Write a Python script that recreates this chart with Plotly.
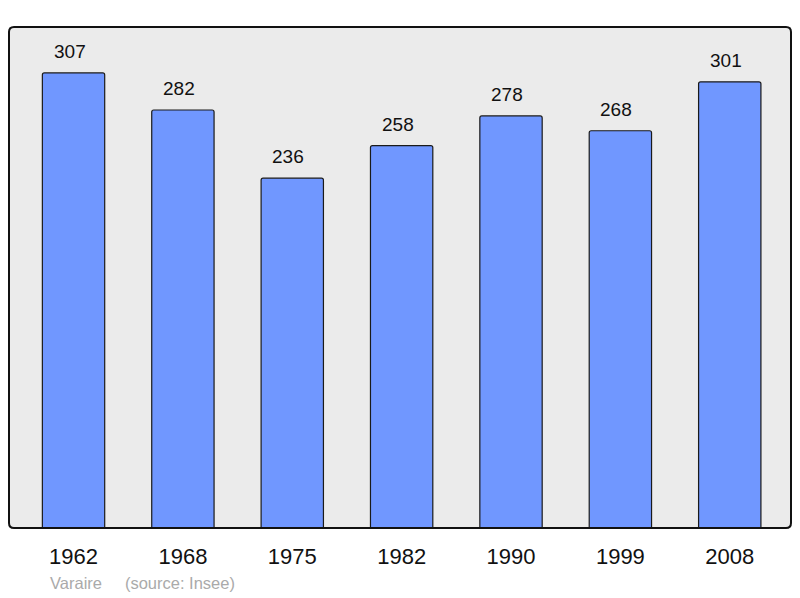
import plotly.graph_objects as go

years = ["1962", "1968", "1975", "1982", "1990", "1999", "2008"]
population = [307, 282, 236, 258, 278, 268, 301]
source_text = "Varaire     (source: Insee)"

xs = list(range(len(years)))
FONT = "Liberation Sans, Arial, sans-serif"

fig = go.Figure()
fig.add_trace(go.Bar(
    x=xs, y=population, width=0.57,
    marker=dict(color="#7097FF", line=dict(color="#1a1a1a", width=1.2), cornerradius=2),
    hoverinfo="skip",
))

for x, v in zip(xs, population):
    fig.add_annotation(x=x, y=v, text=str(v), showarrow=False, yanchor="bottom",
                       yshift=9, xshift=-4, font=dict(size=19, color="#111111", family=FONT))

fig.add_annotation(xref="paper", yref="paper", x=(48 - 9) / 782, y=-(583 - 528) / 501,
                   xanchor="left", yanchor="middle", showarrow=False,
                   text=source_text,
                   font=dict(size=16.5, color="#aaaaaa", family=FONT))

# rounded frame around plot area
rx, ry = 5 / 782, 5 / 501
path = (f"M {rx},0 L {1-rx},0 Q 1,0 1,{ry} L 1,{1-ry} Q 1,1 {1-rx},1 "
        f"L {rx},1 Q 0,1 0,{1-ry} L 0,{ry} Q 0,0 {rx},0 Z")
fig.add_shape(type="path", xref="paper", yref="paper", path=path,
              line=dict(color="#111111", width=2), layer="above")

fig.update_layout(
    width=800, height=598,
    margin=dict(l=9, r=9, t=27, b=70),
    paper_bgcolor="white", plot_bgcolor="#EBEBEB",
    showlegend=False,
    font=dict(family=FONT),
    xaxis=dict(range=[-0.59, 6.56], tickvals=xs, ticktext=years, showgrid=False,
               zeroline=False, ticks="outside", ticklen=9, tickcolor="rgba(0,0,0,0)",
               tickfont=dict(size=22, color="#111111"), fixedrange=True),
    yaxis=dict(range=[0, 338], showgrid=False, zeroline=False, showticklabels=False,
               fixedrange=True),
)

fig.write_html("out.html", config={"displayModeBar": False},
               post_script="document.body.style.margin='0';document.body.style.overflow='hidden';")
